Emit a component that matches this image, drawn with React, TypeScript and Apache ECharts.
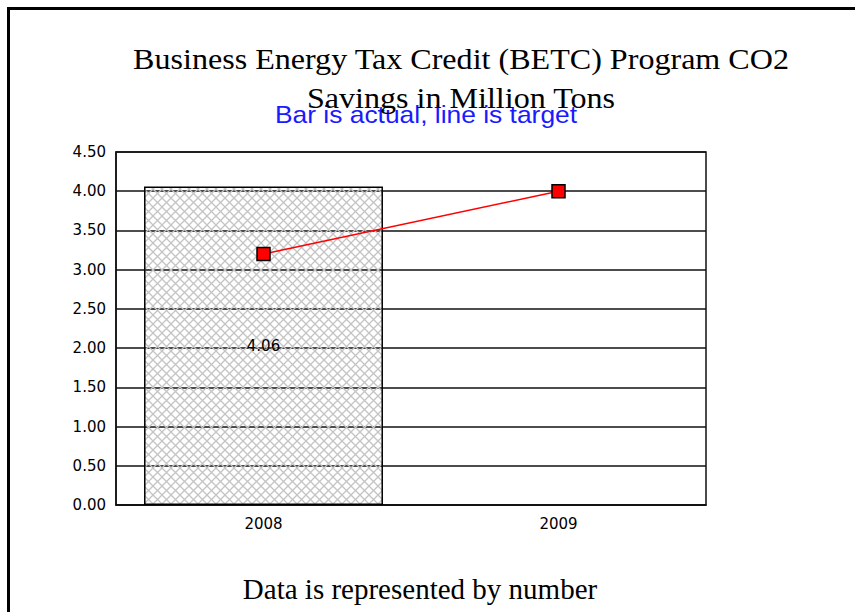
import React, { useEffect, useRef } from "react";
import * as echarts from "echarts";

const categories = ["2008", "2009"];
const actualValues: (number | null)[] = [4.06, null];
const targetValues = [3.2, 4.0];
const yTickMin = 0;
const yTickMax = 4.5;
const yTickInterval = 0.5;

function makeHatch(): string {
  const c = document.createElement("canvas");
  const s = 9;
  c.width = s;
  c.height = s;
  const ctx = c.getContext("2d")!;
  ctx.strokeStyle = "#c4c4c4";
  ctx.lineWidth = 1.3;
  ctx.beginPath();
  ctx.moveTo(0, 0);
  ctx.lineTo(s, s);
  ctx.moveTo(s, 0);
  ctx.lineTo(0, s);
  ctx.stroke();
  return c.toDataURL();
}

const tickFont = "'DejaVu Sans', Verdana, sans-serif";

export default function App() {
  const ref = useRef<HTMLDivElement>(null);
  useEffect(() => {
    document.body.style.margin = "0";
    const chart = echarts.init(ref.current!, null, { renderer: "svg" });
    const hatch = makeHatch();
    chart.setOption({
      animation: false,
      backgroundColor: "#fff",
      graphic: [
        {
          type: "rect",
          shape: { x: 8.5, y: 8.5, width: 1000, height: 800 },
          style: { fill: "none", stroke: "#000", lineWidth: 3 },
          z: 100,
        },
        {
          type: "text",
          x: 461,
          y: 44,
          scaleX: 1.07,
          style: {
            text: "Business Energy Tax Credit (BETC) Program CO2",
            font: "30px 'Liberation Serif', serif",
            fill: "#000",
            align: "center",
            verticalAlign: "top",
          },
        },
        {
          type: "text",
          x: 461,
          y: 83,
          scaleX: 1.07,
          z: 10,
          style: {
            text: "Savings in Million Tons",
            font: "30px 'Liberation Serif', serif",
            fill: "#000",
            align: "center",
            verticalAlign: "top",
          },
        },
        {
          type: "text",
          x: 426,
          y: 102,
          scaleX: 1.1,
          z: 5,
          style: {
            text: "Bar is actual, line is target",
            font: "24px 'Liberation Sans', Arial, sans-serif",
            fill: "#1a1aff",
            align: "center",
            verticalAlign: "top",
          },
        },
        {
          type: "text",
          x: 420,
          y: 574,
          style: {
            text: "Data is represented by number",
            font: "29px 'Liberation Serif', serif",
            fill: "#000",
            align: "center",
            verticalAlign: "top",
          },
        },
      ],
      grid: {
        left: 116,
        right: 149,
        top: 152,
        bottom: 107,
        show: true,
        borderColor: "#111",
        borderWidth: 1.5,
        backgroundColor: "transparent",
      },
      xAxis: {
        type: "category",
        data: categories,
        axisLine: { show: true, lineStyle: { color: "#111", width: 1.5 } },
        axisTick: { show: false },
        axisLabel: {
          color: "#000",
          fontFamily: tickFont,
          fontSize: 15,
          margin: 11,
        },
      },
      yAxis: {
        type: "value",
        min: yTickMin,
        max: yTickMax,
        interval: yTickInterval,
        axisLine: { show: true, lineStyle: { color: "#111", width: 1.5 } },
        axisTick: { show: false },
        axisLabel: {
          color: "#000",
          fontFamily: tickFont,
          fontSize: 15,
          margin: 10,
          formatter: (v: number) => v.toFixed(2),
        },
        splitLine: { show: true, lineStyle: { color: "#111", width: 1.5 } },
      },
      series: [
        {
          type: "bar",
          data: actualValues,
          barWidth: "81%",
          itemStyle: {
            color: { image: hatch, repeat: "repeat" },
            borderColor: "#000",
            borderWidth: 1.5,
          },
          label: {
            show: true,
            position: "inside",
            color: "#000",
            fontFamily: tickFont,
            fontSize: 15,
            formatter: (p: any) => Number(p.value).toFixed(2),
          },
          z: 2,
        },
        {
          type: "line",
          data: targetValues,
          symbol: "rect",
          symbolSize: 13,
          lineStyle: { color: "#ff0000", width: 1.5 },
          itemStyle: { color: "#ff0000", borderColor: "#000", borderWidth: 1.5 },
          z: 3,
        },
      ],
    });
    return () => chart.dispose();
  }, []);
  return <div ref={ref} style={{ width: 855, height: 612 }} />;
}
